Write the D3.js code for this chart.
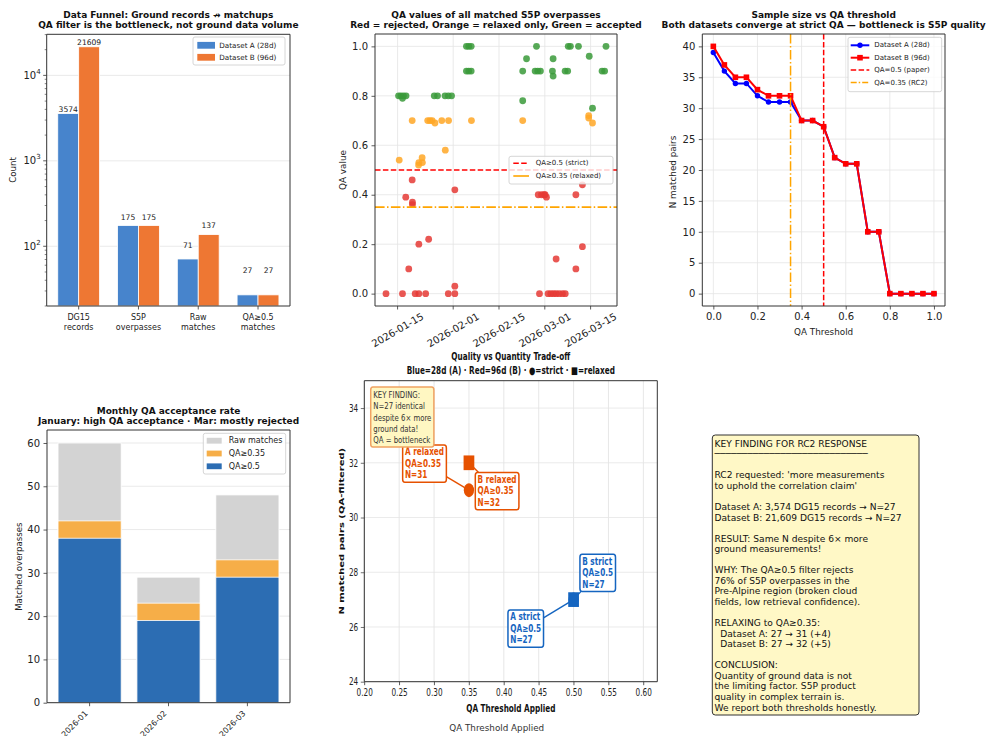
<!DOCTYPE html>
<html>
<head>
<meta charset="utf-8">
<script src="https://cdn.jsdelivr.net/npm/d3@7"></script>
<style>
  body { margin: 0; background: #fff; }
  svg text { font-family: "DejaVu Sans", "Liberation Sans", sans-serif; }
</style>
</head>
<body>
<svg id="fig" width="989" height="736" xmlns="http://www.w3.org/2000/svg"></svg>
<script>
// ---------------- data ----------------
// Funnel: ground records down to QA-filtered matchups
const funnelStages = ["DG15\nrecords", "S5P\noverpasses", "Raw\nmatches", "QA≥0.5\nmatches"];
const funnelA = [3574, 175, 71, 27];
const funnelB = [21609, 175, 137, 27];

// QA value of each matched S5P overpass, split by filter outcome
const qaRejected = [
  ["2026-01-11T11", 0.00], ["2026-01-16T12", 0.00], ["2026-01-17T12", 0.39], ["2026-01-18T10", 0.10],
  ["2026-01-19T11", 0.46], ["2026-01-19T13", 0.37], ["2026-01-19T13", 0.36], ["2026-01-20T09", 0.00],
  ["2026-01-21T12", 0.20], ["2026-01-21T12", 0.00], ["2026-01-23T14", 0.00], ["2026-01-24T12", 0.22],
  ["2026-01-30T12", 0.00], ["2026-02-01T12", 0.42], ["2026-02-01T12", 0.03], ["2026-02-01T12", 0.00],
  ["2026-02-27T00", 0.40], ["2026-02-27T09", 0.00], ["2026-02-28T00", 0.40], ["2026-02-28T19", 0.40],
  ["2026-03-01T02", 0.40], ["2026-03-01T12", 0.39], ["2026-03-02T00", 0.00], ["2026-03-02T20", 0.00],
  ["2026-03-03T16", 0.00], ["2026-03-04T11", 0.14], ["2026-03-04T11", 0.00], ["2026-03-05T09", 0.00],
  ["2026-03-06T10", 0.00], ["2026-03-07T06", 0.00], ["2026-03-10T12", 0.40], ["2026-03-10T12", 0.10],
  ["2026-03-12T12", 0.44], ["2026-03-12T12", 0.19]
];
const qaRelaxed = [
  ["2026-01-15T12", 0.54], ["2026-01-19T11", 0.70], ["2026-01-21T10", 0.52], ["2026-01-21T12", 0.53],
  ["2026-01-22T12", 0.55], ["2026-01-22T14", 0.53], ["2026-01-24T05", 0.70], ["2026-01-24T22", 0.70],
  ["2026-01-25T14", 0.70], ["2026-01-26T10", 0.69], ["2026-01-28T12", 0.70], ["2026-01-29T14", 0.58],
  ["2026-01-30T14", 0.70], ["2026-02-06T14", 0.70], ["2026-02-22T06", 0.70], ["2026-03-14T10", 0.72],
  ["2026-03-14T10", 0.71], ["2026-03-15T14", 0.69]
];
const qaAccepted = [
  ["2026-01-15T07", 0.80], ["2026-01-16T00", 0.80], ["2026-01-16T12", 0.79], ["2026-01-16T19", 0.80],
  ["2026-01-17T14", 0.80], ["2026-01-26T05", 0.80], ["2026-01-27T05", 0.80], ["2026-01-29T12", 0.80],
  ["2026-01-30T12", 0.80], ["2026-01-31T12", 0.80], ["2026-02-05T01", 1.00], ["2026-02-05T18", 1.00],
  ["2026-02-06T12", 1.00], ["2026-02-05T01", 0.90], ["2026-02-05T18", 0.90], ["2026-02-06T12", 0.90],
  ["2026-02-22T06", 0.90], ["2026-02-22T06", 0.78], ["2026-02-23T10", 0.95], ["2026-02-26T01", 0.90],
  ["2026-02-26T11", 1.00], ["2026-02-26T20", 0.90], ["2026-02-27T16", 0.90], ["2026-03-03T08", 0.90],
  ["2026-03-03T13", 0.95], ["2026-03-03T13", 0.88], ["2026-03-07T05", 0.90], ["2026-03-08T00", 0.90],
  ["2026-03-08T04", 1.00], ["2026-03-08T20", 1.00], ["2026-03-11T07", 1.00], ["2026-03-14T14", 0.96],
  ["2026-03-15T14", 0.75], ["2026-03-18T12", 0.90], ["2026-03-19T07", 0.90], ["2026-03-19T17", 1.00]
];
const dateTicks = ["2026-01-15", "2026-02-01", "2026-02-15", "2026-03-01", "2026-03-15"];

// Sample size vs QA threshold
const thresholds = [0, 0.05, 0.1, 0.15, 0.2, 0.25, 0.3, 0.35, 0.4, 0.45, 0.5, 0.55, 0.6, 0.65, 0.7, 0.75, 0.8, 0.85, 0.9, 0.95, 1.0];
const nPairsA = [39, 36, 34, 34, 32, 31, 31, 31, 28, 28, 27, 22, 21, 21, 10, 10, 0, 0, 0, 0, 0];
const nPairsB = [40, 37, 35, 35, 33, 32, 32, 32, 28, 28, 27, 22, 21, 21, 10, 10, 0, 0, 0, 0, 0];

// Monthly acceptance
const months = ["2026-01", "2026-02", "2026-03"];
const rawMatches = [60, 29, 48];
const relaxedCounts = [42, 23, 33];
const strictCounts = [38, 19, 29];

// Quality vs quantity points
const tradeoffNames = ["A relaxed", "B relaxed", "A strict", "B strict"];
const tradeoffDataset = ["A", "B", "A", "B"];
const tradeoffQA = [0.35, 0.35, 0.5, 0.5];
const tradeoffN = [31, 32, 27, 27];

// Summary text
const summaryLines = [
  "KEY FINDING FOR RC2 RESPONSE",
  "────────────────────────────",
  "",
  "RC2 requested: 'more measurements",
  "to uphold the correlation claim'",
  "",
  "Dataset A: 3,574 DG15 records → N=27",
  "Dataset B: 21,609 DG15 records → N=27",
  "",
  "RESULT: Same N despite 6× more",
  "ground measurements!",
  "",
  "WHY: The QA≥0.5 filter rejects",
  "76% of S5P overpasses in the",
  "Pre-Alpine region (broken cloud",
  "fields, low retrieval confidence).",
  "",
  "RELAXING to QA≥0.35:",
  "  Dataset A: 27 → 31 (+4)",
  "  Dataset B: 27 → 32 (+5)",
  "",
  "CONCLUSION:",
  "Quantity of ground data is not",
  "the limiting factor. S5P product",
  "quality in complex terrain is.",
  "We report both thresholds honestly."
];

// ---------------- helpers ----------------
const fig = d3.select("#fig");
const FONT = '"DejaVu Sans", "Liberation Sans", sans-serif';
const MONO = '"DejaVu Sans Mono", "Liberation Mono", monospace';
const INK = "#222";
const SPINE = "#333";
const GRID = "#e4e4e4";
const TITLE_FS = 9;

function styleAxis(g, fs) {
  g.attr("font-family", FONT).attr("font-size", fs);
  g.select(".domain").remove();
  g.selectAll(".tick line").attr("stroke", SPINE).attr("stroke-width", 0.8);
  g.selectAll(".tick text").attr("fill", INK);
}
function frame(g, l, t, r, b) {
  g.append("rect").attr("x", l).attr("y", t).attr("width", r - l).attr("height", b - t)
    .attr("fill", "none").attr("stroke", SPINE).attr("stroke-width", 1)
    .attr("vector-effect", "non-scaling-stroke");
}
function title(cx, y0, lines, fs) {
  lines.forEach((t, i) => fig.append("text").attr("x", cx).attr("y", y0 + i * 10.4)
    .attr("text-anchor", "middle").attr("font-weight", "bold").attr("font-size", fs).attr("fill", "#111").text(t));
}
function ylabel(x, cy, txt, fs) {
  fig.append("text").attr("transform", `translate(${x},${cy}) rotate(-90)`)
    .attr("text-anchor", "middle").attr("dominant-baseline", "central")
    .attr("font-size", fs).attr("fill", INK).text(txt);
}
function legendBox(l, t, r, b) {
  fig.append("rect").attr("x", l).attr("y", t).attr("width", r - l).attr("height", b - t).attr("rx", 2)
    .attr("fill", "#fff").attr("fill-opacity", 0.8).attr("stroke", "#cccccc").attr("stroke-width", 0.8);
}
function legendText(x, y, txt, fs) {
  fig.append("text").attr("x", x).attr("y", y).attr("dominant-baseline", "central")
    .attr("font-size", fs).attr("fill", INK).text(txt);
}
const parseT = d3.utcParse("%Y-%m-%dT%H");
const parseD = d3.utcParse("%Y-%m-%d");

// ---------------- Panel 1: data funnel (log scale) ----------------
{
  const L = 46.7, R = 290, T = 34.3, B = 306;
  const colA = "#4784cc", colB = "#ee7733";
  const x = d3.scaleLinear().domain([-0.535, 3.535]).range([L, R]);
  const y = d3.scaleLog().domain([20, d3.max(funnelB) * 1.4]).range([B, T]);
  const g = fig.append("g");
  const majors = [100, 1000, 10000];
  g.selectAll(".grid").data(majors).join("line")
    .attr("x1", L).attr("x2", R).attr("y1", d => y(d)).attr("y2", d => y(d))
    .attr("stroke", GRID).attr("stroke-width", 0.8);
  const bw = 0.35;
  const bars = funnelStages.map((s, i) => [{ i, v: funnelA[i], off: -bw, c: colA }, { i, v: funnelB[i], off: 0, c: colB }]).flat();
  g.selectAll(".bar").data(bars).join("rect")
    .attr("x", d => x(d.i + d.off)).attr("width", x(bw) - x(0))
    .attr("y", d => y(d.v)).attr("height", d => B - y(d.v))
    .attr("fill", d => d.c).attr("stroke", "#fff").attr("stroke-width", 0.8);
  g.selectAll(".blab").data(bars).join("text")
    .attr("x", d => x(d.i + d.off + bw / 2)).attr("y", d => y(d.v * 1.05 + 20))
    .attr("text-anchor", "middle").attr("font-size", 7.6).attr("fill", INK).text(d => d.v);
  frame(g, L, T, R, B);
  // log y axis
  majors.forEach(v => {
    g.append("line").attr("x1", L - 3.5).attr("x2", L).attr("y1", y(v)).attr("y2", y(v)).attr("stroke", SPINE).attr("stroke-width", 0.8);
    const t = g.append("text").attr("x", L - 6).attr("y", y(v) + 3.5).attr("text-anchor", "end").attr("font-size", 10).attr("fill", INK);
    t.append("tspan").text("10");
    t.append("tspan").attr("dy", -5).attr("font-size", 7).text(Math.round(Math.log10(v)));
  });
  [10, 100, 1000, 10000].forEach(dec => d3.range(2, 10).forEach(k => {
    const v = k * dec;
    if (v >= 20 && v <= y.domain()[1]) {
      g.append("line").attr("x1", L - 2).attr("x2", L).attr("y1", y(v)).attr("y2", y(v)).attr("stroke", SPINE).attr("stroke-width", 0.6);
    }
  }));
  // x axis
  funnelStages.forEach((s, i) => {
    g.append("line").attr("x1", x(i)).attr("x2", x(i)).attr("y1", B).attr("y2", B + 3.5).attr("stroke", SPINE).attr("stroke-width", 0.8);
    const t = g.append("text").attr("text-anchor", "middle").attr("font-size", 8).attr("fill", INK);
    s.split("\n").forEach((line, k) => t.append("tspan").attr("x", x(i)).attr("y", 320.3 + k * 10).text(line));
  });
  ylabel(13.3, 170, "Count", 8.6);
  title((L + R) / 2, 17.5, ["Data Funnel: Ground records ↛ matchups", "QA filter is the bottleneck, not ground data volume"], TITLE_FS);
  legendBox(193, 37, 285, 65);
  [[colA, "Dataset A (28d)"], [colB, "Dataset B (96d)"]].forEach((e, k) => {
    const yy = 45.3 + k * 12;
    fig.append("rect").attr("x", 197.3).attr("y", yy - 3.4).attr("width", 17.7).attr("height", 6.8).attr("fill", e[0]);
    legendText(219.3, yy, e[1], 7.2);
  });
}

// ---------------- Panel 2: QA values over time ----------------
{
  const L = 375, R = 617, T = 34, B = 306;
  const all = qaRejected.concat(qaRelaxed, qaAccepted).map(d => parseT(d[0]));
  const [d0, d1] = d3.extent(all);
  const pad = (d1 - d0) * 0.05;
  const x = d3.scaleUtc().domain([new Date(+d0 - pad), new Date(+d1 + pad)]).range([L, R]);
  const y = d3.scaleLinear().domain([-0.05, 1.05]).range([B, T]);
  const g = fig.append("g");
  const xt = dateTicks.map(parseD);
  const yt = [0, 0.2, 0.4, 0.6, 0.8, 1.0];
  g.selectAll(".gx").data(xt).join("line").attr("x1", d => x(d)).attr("x2", d => x(d)).attr("y1", T).attr("y2", B).attr("stroke", GRID).attr("stroke-width", 0.8);
  g.selectAll(".gy").data(yt).join("line").attr("x1", L).attr("x2", R).attr("y1", d => y(d)).attr("y2", d => y(d)).attr("stroke", GRID).attr("stroke-width", 0.8);
  const groups = [[qaRejected, "#e53935"], [qaRelaxed, "#ffa726"], [qaAccepted, "#3a9a3a"]];
  groups.forEach(([pts, c]) => {
    g.append("g").selectAll("circle").data(pts).join("circle")
      .attr("cx", d => x(parseT(d[0]))).attr("cy", d => y(d[1])).attr("r", 3.4)
      .attr("fill", c).attr("fill-opacity", 0.85);
  });
  g.append("line").attr("x1", L).attr("x2", R).attr("y1", y(0.5)).attr("y2", y(0.5))
    .attr("stroke", "#ff0000").attr("stroke-width", 1.6).attr("stroke-dasharray", "5.5,2.4");
  g.append("line").attr("x1", L).attr("x2", R).attr("y1", y(0.35)).attr("y2", y(0.35))
    .attr("stroke", "#ffa500").attr("stroke-width", 1.6).attr("stroke-dasharray", "9.6,2.4,1.5,2.4");
  frame(g, L, T, R, B);
  const ya = g.append("g").attr("transform", `translate(${L},0)`)
    .call(d3.axisLeft(y).tickValues(yt).tickFormat(d3.format(".1f")).tickSize(3.5).tickPadding(3.5));
  styleAxis(ya, 10);
  xt.forEach(d => {
    g.append("line").attr("x1", x(d)).attr("x2", x(d)).attr("y1", B).attr("y2", B + 3.5).attr("stroke", SPINE).attr("stroke-width", 0.8);
    g.append("text").attr("transform", `translate(${x(d)},${330}) rotate(-30)`)
      .attr("text-anchor", "middle").attr("dominant-baseline", "central")
      .attr("font-size", 10).attr("fill", INK).text(d3.utcFormat("%Y-%m-%d")(d));
  });
  ylabel(343.3, 170, "QA value", 8.8);
  title((L + R) / 2, 17.5, ["QA values of all matched S5P overpasses", "Red = rejected, Orange = relaxed only, Green = accepted"], TITLE_FS);
  legendBox(509, 156.3, 613, 184);
  fig.append("line").attr("x1", 513.3).attr("x2", 529).attr("y1", 163.3).attr("y2", 163.3).attr("stroke", "#ff0000").attr("stroke-width", 1.6).attr("stroke-dasharray", "5.5,2.4");
  legendText(535.7, 163.3, "QA≥0.5 (strict)", 7);
  fig.append("line").attr("x1", 513.3).attr("x2", 529).attr("y1", 176).attr("y2", 176).attr("stroke", "#ffa500").attr("stroke-width", 1.6);
  legendText(535.7, 176, "QA≥0.35 (relaxed)", 7);
}

// ---------------- Panel 3: sample size vs threshold ----------------
{
  const L = 702.3, R = 945, T = 34, B = 306;
  const x = d3.scaleLinear().domain([-0.05, 1.05]).range([L, R]);
  const y = d3.scaleLinear().domain([-2, 42]).range([B, T]);
  const g = fig.append("g");
  const xt = [0, 0.2, 0.4, 0.6, 0.8, 1.0];
  const yt = [0, 5, 10, 15, 20, 25, 30, 35, 40];
  g.selectAll(".gx").data(xt).join("line").attr("x1", d => x(d)).attr("x2", d => x(d)).attr("y1", T).attr("y2", B).attr("stroke", GRID).attr("stroke-width", 0.8);
  g.selectAll(".gy").data(yt).join("line").attr("x1", L).attr("x2", R).attr("y1", d => y(d)).attr("y2", d => y(d)).attr("stroke", GRID).attr("stroke-width", 0.8);
  const line = d3.line().x(d => x(d[0])).y(d => y(d[1]));
  const ptsA = thresholds.map((t, i) => [t, nPairsA[i]]);
  const ptsB = thresholds.map((t, i) => [t, nPairsB[i]]);
  g.append("path").datum(ptsA).attr("d", line).attr("fill", "none").attr("stroke", "#0000ff").attr("stroke-width", 2);
  g.selectAll(".ma").data(ptsA).join("circle").attr("cx", d => x(d[0])).attr("cy", d => y(d[1])).attr("r", 2.7).attr("fill", "#0000ff");
  g.append("path").datum(ptsB).attr("d", line).attr("fill", "none").attr("stroke", "#ff0000").attr("stroke-width", 2);
  g.selectAll(".mb").data(ptsB).join("rect").attr("x", d => x(d[0]) - 2.8).attr("y", d => y(d[1]) - 2.8).attr("width", 5.6).attr("height", 5.6).attr("fill", "#ff0000");
  g.append("line").attr("x1", x(0.5)).attr("x2", x(0.5)).attr("y1", T).attr("y2", B).attr("stroke", "#ff0000").attr("stroke-width", 1.5).attr("stroke-dasharray", "5.5,2.4");
  g.append("line").attr("x1", x(0.35)).attr("x2", x(0.35)).attr("y1", T).attr("y2", B).attr("stroke", "#ffa500").attr("stroke-width", 1.5).attr("stroke-dasharray", "9.6,2.4,1.5,2.4");
  frame(g, L, T, R, B);
  const ya = g.append("g").attr("transform", `translate(${L},0)`).call(d3.axisLeft(y).tickValues(yt).tickSize(3.5).tickPadding(3.5));
  styleAxis(ya, 10);
  const xa = g.append("g").attr("transform", `translate(0,${B})`).call(d3.axisBottom(x).tickValues(xt).tickFormat(d3.format(".1f")).tickSize(3.5).tickPadding(3.5));
  styleAxis(xa, 10);
  ylabel(673, 172, "N matched pairs", 8.8);
  fig.append("text").attr("x", (L + R) / 2).attr("y", 334.8).attr("text-anchor", "middle").attr("font-size", 8.8).attr("fill", INK).text("QA Threshold");
  title((L + R) / 2, 17.5, ["Sample size vs QA threshold", "Both datasets converge at strict QA — bottleneck is S5P quality"], TITLE_FS);
  legendBox(848, 37.3, 941.7, 91.7);
  const ly = [45.3, 57.7, 70.1, 82.5];
  fig.append("line").attr("x1", 850.7).attr("x2", 869.3).attr("y1", ly[0]).attr("y2", ly[0]).attr("stroke", "#0000ff").attr("stroke-width", 2);
  fig.append("circle").attr("cx", 860).attr("cy", ly[0]).attr("r", 2.7).attr("fill", "#0000ff");
  fig.append("line").attr("x1", 850.7).attr("x2", 869.3).attr("y1", ly[1]).attr("y2", ly[1]).attr("stroke", "#ff0000").attr("stroke-width", 2);
  fig.append("rect").attr("x", 857.2).attr("y", ly[1] - 2.8).attr("width", 5.6).attr("height", 5.6).attr("fill", "#ff0000");
  fig.append("line").attr("x1", 850.7).attr("x2", 869.3).attr("y1", ly[2]).attr("y2", ly[2]).attr("stroke", "#ff0000").attr("stroke-width", 1.5).attr("stroke-dasharray", "5.5,2.4");
  fig.append("line").attr("x1", 850.7).attr("x2", 869.3).attr("y1", ly[3]).attr("y2", ly[3]).attr("stroke", "#ffa500").attr("stroke-width", 1.5).attr("stroke-dasharray", "6,2,1.5,2");
  ["Dataset A (28d)", "Dataset B (96d)", "QA=0.5 (paper)", "QA=0.35 (RC2)"].forEach((t, k) => legendText(874.3, ly[k], t, 7));
}

// ---------------- Panel 4: monthly acceptance ----------------
{
  const L = 47, R = 290, T = 430, B = 702.7;
  const x = d3.scaleLinear().domain([-0.54, 2.54]).range([L, R]);
  const y = d3.scaleLinear().domain([0, d3.max(rawMatches) * 1.05]).range([B, T]);
  const g = fig.append("g");
  const yt = [0, 10, 20, 30, 40, 50, 60];
  g.selectAll(".gy").data(yt).join("line").attr("x1", L).attr("x2", R).attr("y1", d => y(d)).attr("y2", d => y(d)).attr("stroke", GRID).attr("stroke-width", 0.8);
  const bw = 0.8;
  const layers = [[rawMatches, "#d3d3d3"], [relaxedCounts, "#f6ae48"], [strictCounts, "#2c6db3"]];
  layers.forEach(([vals, c]) => {
    g.append("g").selectAll("rect").data(vals).join("rect")
      .attr("x", (d, i) => x(i - bw / 2)).attr("width", x(bw) - x(0))
      .attr("y", d => y(d)).attr("height", d => B - y(d))
      .attr("fill", c).attr("stroke", "#fff").attr("stroke-width", 0.8);
  });
  frame(g, L, T, R, B);
  const ya = g.append("g").attr("transform", `translate(${L},0)`).call(d3.axisLeft(y).tickValues(yt).tickSize(3.5).tickPadding(3.5));
  styleAxis(ya, 10);
  months.forEach((m, i) => {
    g.append("line").attr("x1", x(i)).attr("x2", x(i)).attr("y1", B).attr("y2", B + 3.5).attr("stroke", SPINE).attr("stroke-width", 0.8);
    g.append("text").attr("transform", `translate(${x(i) - 1.3},${714}) rotate(-45)`)
      .attr("text-anchor", "end").attr("font-size", 8).attr("fill", INK).text(m);
  });
  ylabel(19, 566.7, "Matched overpasses", 8.6);
  title((L + R) / 2, 413.5, ["Monthly QA acceptance rate", "January: high QA acceptance · Mar: mostly rejected"], TITLE_FS);
  legendBox(203.3, 433.3, 285.7, 474);
  [["#d3d3d3", "Raw matches"], ["#f6ae48", "QA≥0.35"], ["#2c6db3", "QA≥0.5"]].forEach((e, k) => {
    const yy = 440.7 + k * 12.8;
    fig.append("rect").attr("x", 206.7).attr("y", yy - 2.9).attr("width", 15).attr("height", 5.8).attr("fill", e[0]);
    legendText(228.7, yy, e[1], 8);
  });
}

// ---------------- Panel 5: quality vs quantity (horizontally compressed) ----------------
{
  const SX = 0.73, L0 = 364.3, T0 = 380.7;
  const W = (657.3 - L0) / SX, H = 301;
  const g = fig.append("g").attr("transform", `translate(${L0},${T0}) scale(${SX},1)`);
  const x = d3.scaleLinear().domain([0.2, 0.62]).range([0, W]);
  const y = d3.scaleLinear().domain([24, 35]).range([H, 0]);
  const xt = d3.range(9).map(i => 0.2 + i * 0.05);
  const yt = [24, 26, 28, 30, 32, 34];
  g.selectAll(".gx").data(xt).join("line").attr("x1", d => x(d)).attr("x2", d => x(d)).attr("y1", 0).attr("y2", H)
    .attr("stroke", GRID).attr("stroke-width", 0.9).attr("vector-effect", "non-scaling-stroke");
  g.selectAll(".gy").data(yt).join("line").attr("x1", 0).attr("x2", W).attr("y1", d => y(d)).attr("y2", d => y(d))
    .attr("stroke", GRID).attr("stroke-width", 0.9);
  const pts = tradeoffNames.map((n, i) => ({
    name: n, ds: tradeoffDataset[i], qa: tradeoffQA[i], n: tradeoffN[i],
    color: tradeoffQA[i] < 0.5 ? "#e65100" : "#1565c0"
  }));
  // text offsets (inner px) for each annotation, relative to its point
  const offs = { "A relaxed": [-87.6, -34.9], "B relaxed": [11.9, 20.1], "A strict": [-86.7, 20.7], "B strict": [11.9, -35] };
  const annLayer = g.append("g");
  const markLayer = g.append("g");
  const boxLayer = g.append("g");
  pts.forEach(p => {
    const px = x(p.qa), py = y(p.n);
    const [ox, oy] = offs[p.name];
    const tg = boxLayer.append("g");
    const rect = tg.append("rect");
    const t = tg.append("text").attr("font-size", 10).attr("font-weight", "bold").attr("fill", p.color);
    [p.name, "QA≥" + p.qa, "N=" + p.n].forEach((s, k) => t.append("tspan").attr("x", px + ox).attr("y", py + oy + k * 11.5).text(s));
    const bb = t.node().getBBox();
    const bx = bb.x - 3.2, by = bb.y - 1.2, bwid = bb.width + 6.4, bht = bb.height + 2.8;
    rect.attr("x", bx).attr("y", by).attr("width", bwid).attr("height", bht).attr("rx", 3)
      .attr("fill", "#fff").attr("stroke", p.color).attr("stroke-width", 1.5).attr("vector-effect", "non-scaling-stroke");
    annLayer.append("line").attr("x1", bx + bwid / 2).attr("y1", by + bht / 2).attr("x2", px).attr("y2", py)
      .attr("stroke", p.color).attr("stroke-width", 1.4).attr("vector-effect", "non-scaling-stroke");
  });
  pts.forEach(p => {
    if (p.ds === "A") {
      markLayer.append("circle").attr("cx", x(p.qa)).attr("cy", y(p.n)).attr("r", 7).attr("fill", p.color);
    }
  });
  pts.forEach(p => {
    if (p.ds === "B") {
      markLayer.append("rect").attr("x", x(p.qa) - 7.35).attr("y", y(p.n) - 7.35).attr("width", 14.7).attr("height", 14.7).attr("fill", p.color);
    }
  });
  // key finding note
  const kg = g.append("g");
  const krect = kg.append("rect");
  const kt = kg.append("text").attr("font-size", 9.5).attr("fill", "#333");
  ["KEY FINDING:", "N=27 identical", "despite 6× more", "ground data!", "QA = bottleneck"].forEach((s, k) =>
    kt.append("tspan").attr("x", 12.3).attr("y", 17 + k * 11.4).text(s));
  const kb = kt.node().getBBox();
  krect.attr("x", kb.x - 3.5).attr("y", kb.y - 1.5).attr("width", kb.width + 7).attr("height", kb.height + 3).attr("rx", 3)
    .attr("fill", "#fff7c2").attr("stroke", "#f0a262").attr("stroke-width", 1.5).attr("vector-effect", "non-scaling-stroke");
  frame(g, 0, 0, W, H);
  const xa = g.append("g").attr("transform", `translate(0,${H})`)
    .call(d3.axisBottom(x).tickValues(xt).tickFormat(d3.format(".2f")).tickSize(3.5).tickPadding(3.5));
  styleAxis(xa, 10);
  xa.selectAll(".tick line").attr("vector-effect", "non-scaling-stroke");
  const ya = g.append("g").call(d3.axisLeft(y).tickValues(yt).tickSize(4.8).tickPadding(3.5));
  styleAxis(ya, 10);
  g.append("text").attr("x", W / 2).attr("y", 331).attr("text-anchor", "middle").attr("font-size", 10).attr("font-weight", "bold").attr("fill", "#111").text("QA Threshold Applied");
  g.append("text").attr("transform", `translate(-31.9,${H / 2}) rotate(-90)`).attr("text-anchor", "middle").attr("dominant-baseline", "central")
    .attr("font-size", 10).attr("font-weight", "bold").attr("fill", "#111").text("N matched pairs (QA-filtered)");
  ["Quality vs Quantity Trade-off", "Blue=28d (A) · Red=96d (B) · ●=strict · ■=relaxed"].forEach((s, k) =>
    g.append("text").attr("x", W / 2).attr("y", -20.5 + k * 14).attr("text-anchor", "middle").attr("font-size", 10).attr("font-weight", "bold").attr("fill", "#111").text(s));
  fig.append("text").attr("x", 496.7).attr("y", 730.8).attr("text-anchor", "middle").attr("font-size", 8.8).attr("fill", "#333").text("QA Threshold Applied");
}

// ---------------- Panel 6: summary note ----------------
{
  fig.append("rect").attr("x", 712.3).attr("y", 435).attr("width", 206.7).attr("height", 280).attr("rx", 3)
    .attr("fill", "#fff8c6").attr("stroke", "#333").attr("stroke-width", 1);
  const t = fig.append("text").attr("font-family", MONO).attr("font-size", 9.1).attr("fill", "#111").style("white-space", "pre");
  summaryLines.forEach((s, k) => t.append("tspan").attr("x", 714.5).attr("y", 446.6 + k * 10.56).text(s === "" ? " " : s));
}
</script>
</body>
</html>
